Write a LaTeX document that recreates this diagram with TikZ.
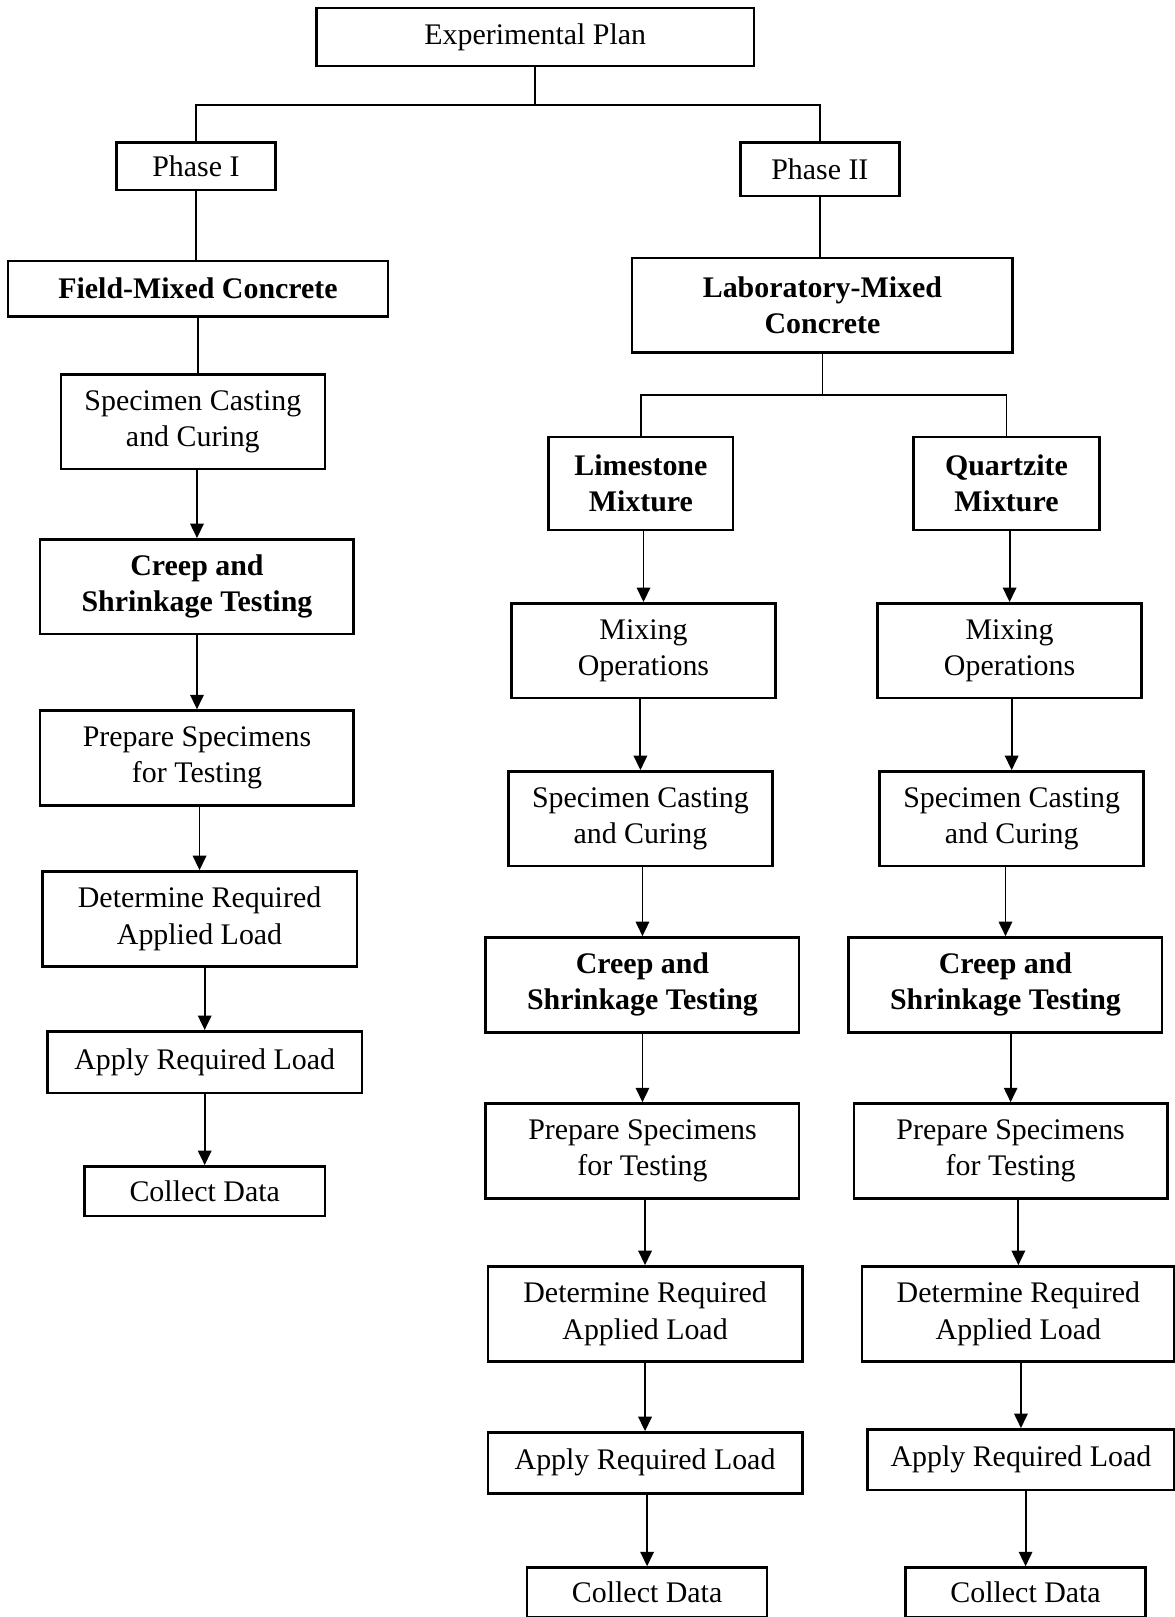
\documentclass[tikz,border=0pt]{standalone}
\usepackage{fontspec}
\setmainfont{Liberation Serif}
\usetikzlibrary{arrows.meta}

\tikzset{
  box/.style={draw, line width=1.2pt, align=center, inner sep=0pt,
    font=\fontsize{14.5}{17.5}\selectfont},
  boldbox/.style={box, font=\fontsize{14.5}{17.5}\selectfont\bfseries},
  link/.style={line width=0.9pt},
  flow/.style={link, -{Triangle[length=7pt, width=6.5pt]}}
}

\begin{document}
\begin{tikzpicture}[x=0.5pt, y=-0.5pt, line join=miter]

\useasboundingbox (0,0) rectangle (1139,1568);

% Top of the plan
\node[box, minimum width=212pt, minimum height=28pt] (plan) at (519,36) {Experimental Plan};
\node[box, minimum width=77pt, minimum height=23pt] (ph1) at (190,161) {Phase I};
\node[box, minimum width=77pt, minimum height=26pt] (ph2) at (795,164) {Phase II};
\node[boldbox, minimum width=184pt, minimum height=27pt] (field) at (192,280) {Field-Mixed Concrete};
\node[boldbox, minimum width=184.5pt, minimum height=46pt] (lab) at (797.5,296) {Laboratory-Mixed\\Concrete};

% Phase I column
\node[box, minimum width=128pt, minimum height=46pt] (castA) at (187,409) {Specimen Casting\\and Curing};
\node[boldbox, minimum width=152pt, minimum height=46pt] (creepA) at (191,569) {Creep and\\Shrinkage Testing};
\node[box, minimum width=152pt, minimum height=46pt] (prepA) at (191,735) {Prepare Specimens\\for Testing};
\node[box, minimum width=152.5pt, minimum height=46pt] (detA) at (193.5,891) {Determine Required\\Applied Load};
\node[box, minimum width=152.5pt, minimum height=30pt] (applyA) at (198.5,1030) {Apply Required Load};
\node[box, minimum width=116.5pt, minimum height=24pt] (collA) at (198.5,1155) {Collect Data};

% Limestone column
\node[boldbox, minimum width=89.5pt, minimum height=45pt] (lime) at (621.5,469) {Limestone\\Mixture};
\node[box, minimum width=128pt, minimum height=46pt] (mixB) at (624,631) {Mixing\\Operations};
\node[box, minimum width=128pt, minimum height=46pt] (castB) at (621,794) {Specimen Casting\\and Curing};
\node[boldbox, minimum width=152pt, minimum height=46pt] (creepB) at (623,955) {Creep and\\Shrinkage Testing};
\node[box, minimum width=152pt, minimum height=46pt] (prepB) at (623,1116) {Prepare Specimens\\for Testing};
\node[box, minimum width=152.5pt, minimum height=46pt] (detB) at (625.5,1274) {Determine Required\\Applied Load};
\node[box, minimum width=152.5pt, minimum height=29.5pt] (applyB) at (625.5,1418.5) {Apply Required Load};
\node[box, minimum width=116.5pt, minimum height=24pt] (collB) at (627.5,1544) {Collect Data};

% Quartzite column
\node[boldbox, minimum width=90pt, minimum height=45pt] (quartz) at (976,469) {Quartzite\\Mixture};
\node[box, minimum width=128pt, minimum height=46pt] (mixC) at (979,631) {Mixing\\Operations};
\node[box, minimum width=128pt, minimum height=46pt] (castC) at (981,794) {Specimen Casting\\and Curing};
\node[boldbox, minimum width=152pt, minimum height=46pt] (creepC) at (975,955) {Creep and\\Shrinkage Testing};
\node[box, minimum width=152pt, minimum height=46pt] (prepC) at (980,1116) {Prepare Specimens\\for Testing};
\node[box, minimum width=151.5pt, minimum height=46pt] (detC) at (987.5,1274) {Determine Required\\Applied Load};
\node[box, minimum width=149pt, minimum height=29.5pt] (applyC) at (990,1415.5) {Apply Required Load};
\node[box, minimum width=116.5pt, minimum height=24pt] (collC) at (994.5,1544) {Collect Data};

% Branch lines
\coordinate (bus) at (517,102);
\coordinate (labbus) at (797,383);
\draw[link] (plan.south) -- (plan.south |- bus);
\draw[link] (ph1.north) |- (plan.south |- bus) -| (ph2.north);
\draw[link] (ph1.south) -- (ph1.south |- field.north);
\draw[link] (ph2.south) -- (ph2.south |- lab.north);
\draw[link] (field.south) -- (field.south |- castA.north);
\draw[link] (lab.south) -- (lab.south |- labbus);
\draw[link] (lime.north) |- (labbus) -| (quartz.north);

% Arrows down each column
\foreach \a/\b in {castA/creepA, creepA/prepA, prepA/detA, detA/applyA, applyA/collA,
                   lime/mixB, mixB/castB, castB/creepB, creepB/prepB, prepB/detB, detB/applyB, applyB/collB,
                   quartz/mixC, mixC/castC, castC/creepC, creepC/prepC, prepC/detC, detC/applyC, applyC/collC}
  \draw[flow] (\b.north |- \a.south) -- (\b.north);

\end{tikzpicture}
\end{document}
